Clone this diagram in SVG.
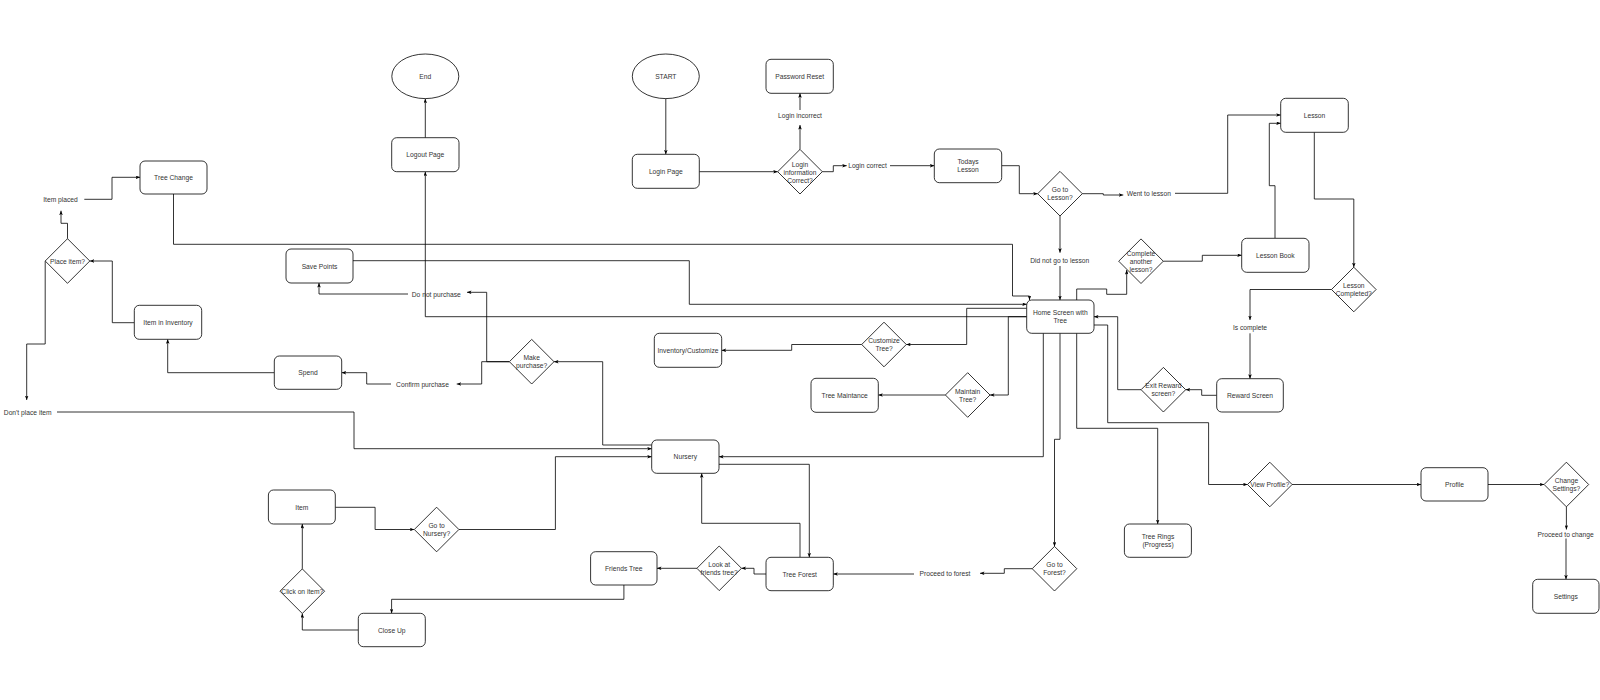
<svg xmlns="http://www.w3.org/2000/svg" width="1600" height="700" viewBox="0 0 1600 700">
<style>
.n rect,.n ellipse,.n polygon{fill:#fff;stroke:#000;stroke-width:0.8}
text{font-family:"Liberation Sans",Arial,Helvetica,sans-serif;font-size:6.7px;fill:#333;text-anchor:middle;dominant-baseline:central}
#edges path{fill:none;stroke:#000;stroke-width:0.8}
</style>
<defs>
<marker id="a" viewBox="0 0 10 8" refX="10" refY="4" markerWidth="4.5" markerHeight="3.6" markerUnits="userSpaceOnUse" orient="auto">
<path d="M0,0 L10,4 L0,8 L2.5,4 z" fill="#000"/>
</marker>
</defs>
<rect width="1600" height="700" fill="#fff"/>

<g id="edges">
<path d="M665.8,98.7 V154.3" marker-end="url(#a)"/>
<path d="M425.3,137.7 V98.7" marker-end="url(#a)"/>
<path d="M699.3,171.7 H777.7" marker-end="url(#a)"/>
<path d="M800,149.4 V125" marker-end="url(#a)"/>
<path d="M800,110 V93.3" marker-end="url(#a)"/>
<path d="M822.3,171.7 H833.3 V165.7 H846.7" marker-end="url(#a)"/>
<path d="M890,165.7 H934.3" marker-end="url(#a)"/>
<path d="M1001.7,165.7 H1019.3 V193.7 H1037.7" marker-end="url(#a)"/>
<path d="M1082.3,193.7 H1103.3 V195 H1123.3" marker-end="url(#a)"/>
<path d="M1175,193.3 H1227.7 V115 H1280.7" marker-end="url(#a)"/>
<path d="M1060,215.7 V252.7" marker-end="url(#a)"/>
<path d="M1060,266 V300" marker-end="url(#a)"/>
<path d="M1275,238.3 V185.7 H1269.3 V123.3 H1280.7" marker-end="url(#a)"/>
<path d="M1314.3,132.3 V199 H1353.8 V267.2" marker-end="url(#a)"/>
<path d="M1331.5,289.5 H1250 V320" marker-end="url(#a)"/>
<path d="M1250,333.3 V378.7" marker-end="url(#a)"/>
<path d="M1216.7,395.3 H1201.7 V389.7 H1185.7" marker-end="url(#a)"/>
<path d="M1141,389.7 H1117.7 V316.7 H1094" marker-end="url(#a)"/>
<path d="M1076.7,300 V289 H1106.7 V294.3 H1126.7 V270" marker-end="url(#a)"/>
<path d="M1163.3,261.2 H1202.3 V255.3 H1241.7" marker-end="url(#a)"/>
<path d="M1094,325 H1107.7 V422.7 H1208.6 V484.5 H1247.5" marker-end="url(#a)"/>
<path d="M1292.1,484.5 H1421" marker-end="url(#a)"/>
<path d="M1488,484.5 H1544.1" marker-end="url(#a)"/>
<path d="M1566.4,506.8 V529.5" marker-end="url(#a)"/>
<path d="M1566,538.5 V579.3" marker-end="url(#a)"/>
<path d="M1076.7,333.3 V428.3 H1157.7 V524" marker-end="url(#a)"/>
<path d="M1060,333.3 V439.3 H1054.5 V546.4" marker-end="url(#a)"/>
<path d="M1043.3,333.3 V456.7 H719" marker-end="url(#a)"/>
<path d="M1032.2,568.7 H1004.3 V573.3 H980" marker-end="url(#a)"/>
<path d="M914,574 H833.3" marker-end="url(#a)"/>
<path d="M766,574 H754 V568.3 H741.5" marker-end="url(#a)"/>
<path d="M696.9,568.3 H657" marker-end="url(#a)"/>
<path d="M623.9,585 V599.3 H391.6 V613.3" marker-end="url(#a)"/>
<path d="M358.3,630 H302.3 V613.5" marker-end="url(#a)"/>
<path d="M302.3,568.9 V524" marker-end="url(#a)"/>
<path d="M335.3,507.3 H375.1 V529.5 H414.3" marker-end="url(#a)"/>
<path d="M458.9,529.5 H555.4 V456.7 H651.7" marker-end="url(#a)"/>
<path d="M800,557.3 V523.3 H701.7 V473.3" marker-end="url(#a)"/>
<path d="M719,464.3 H809.3 V557.3" marker-end="url(#a)"/>
<path d="M651.7,445 H602.7 V361.7 H554" marker-end="url(#a)"/>
<path d="M509.4,361.7 H486.7 V292.3 H467" marker-end="url(#a)"/>
<path d="M408,294 H319 V283" marker-end="url(#a)"/>
<path d="M509.4,361.7 H481.7 V384 H456.7" marker-end="url(#a)"/>
<path d="M391,384 H366.7 V372.7 H341.7" marker-end="url(#a)"/>
<path d="M274.3,372.7 H167.7 V339.3" marker-end="url(#a)"/>
<path d="M134.3,322.7 H112.3 V261 H89.8" marker-end="url(#a)"/>
<path d="M67.5,238.7 V223.3 H61 V210.7" marker-end="url(#a)"/>
<path d="M84.3,199.3 H112 V177.3 H140" marker-end="url(#a)"/>
<path d="M45.2,261 V344 H26.7 V400" marker-end="url(#a)"/>
<path d="M57,412 H354 V448.7 H651.7" marker-end="url(#a)"/>
<path d="M173.5,194 V244.3 H1012.5 V296 H1029.5 V300" marker-end="url(#a)"/>
<path d="M353,260.7 H689.3 V304.3 H1026.7" marker-end="url(#a)"/>
<path d="M1026.7,316.7 H425.3 V171.7" marker-end="url(#a)"/>
<path d="M1026.7,308.3 H966.7 V344.5 H906.3" marker-end="url(#a)"/>
<path d="M861.7,344.5 H791.7 V350.3 H721.7" marker-end="url(#a)"/>
<path d="M1026.7,316.7 H1008.3 V395 H990" marker-end="url(#a)"/>
<path d="M945.4,395 H878.3" marker-end="url(#a)"/>
</g>

<g id="labels">
<text x="60.5" y="199.3">Item placed</text>
<text x="27.7" y="412">Don't place item</text>
<text x="436.3" y="294">Do not purchase</text>
<text x="422.5" y="384">Confirm purchase</text>
<text x="800" y="115.3">Login incorrect</text>
<text x="867.5" y="165.7">Login correct</text>
<text x="1148.8" y="193.3">Went to lesson</text>
<text x="1059.7" y="260.7">Did not go to lesson</text>
<text x="1250" y="327.7">Is complete</text>
<text x="945" y="573.3">Proceed to forest</text>
<text x="1565.6" y="534.7">Proceed to change</text>
</g>

<g id="start" class="n"><ellipse cx="665.8" cy="76.3" rx="33.5" ry="22.3"/><text x="665.8" y="76.3">START</text></g>
<g id="end" class="n"><ellipse cx="425.3" cy="76.3" rx="33.5" ry="22.3"/><text x="425.3" y="76.3">End</text></g>

<g id="tree-change" class="n"><rect x="140" y="161" width="67" height="33" rx="5"/><text x="173.5" y="177.5">Tree Change</text></g>
<g id="save-points" class="n"><rect x="286" y="249" width="67" height="34" rx="5"/><text x="319.5" y="266">Save Points</text></g>
<g id="item-in-inventory" class="n"><rect x="134.3" y="305.3" width="67.4" height="34" rx="5"/><text x="168" y="322.3">Item in Inventory</text></g>
<g id="spend" class="n"><rect x="274.3" y="356" width="67.4" height="33.3" rx="5"/><text x="308" y="372.7">Spend</text></g>
<g id="logout-page" class="n"><rect x="391.7" y="137.7" width="67.3" height="34" rx="5"/><text x="425.3" y="154.7">Logout Page</text></g>
<g id="login-page" class="n"><rect x="632.3" y="154.3" width="67" height="34" rx="5"/><text x="665.8" y="171.3">Login Page</text></g>
<g id="password-reset" class="n"><rect x="766" y="59.3" width="67.3" height="34" rx="5"/><text x="799.7" y="76.3">Password Reset</text></g>
<g id="todays-lesson" class="n"><rect x="934.3" y="149" width="67.4" height="33.7" rx="5"/><text x="968" y="161.8">Todays</text><text x="968" y="169.8">Lesson</text></g>
<g id="lesson" class="n"><rect x="1280.7" y="98.3" width="67.6" height="34" rx="5"/><text x="1314.5" y="115.3">Lesson</text></g>
<g id="lesson-book" class="n"><rect x="1241.7" y="238.3" width="67.3" height="34" rx="5"/><text x="1275.3" y="255.3">Lesson Book</text></g>
<g id="home" class="n"><rect x="1026.7" y="300" width="67.3" height="33.3" rx="5"/><text x="1060.3" y="312.7">Home Screen with</text><text x="1060.3" y="320.7">Tree</text></g>
<g id="inventory-customize" class="n"><rect x="654.3" y="333.3" width="67.4" height="34" rx="5"/><text x="688" y="350.3">Inventory/Customize</text></g>
<g id="tree-maintance" class="n"><rect x="811" y="378.3" width="67.3" height="34" rx="5"/><text x="844.7" y="395.3">Tree Maintance</text></g>
<g id="reward-screen" class="n"><rect x="1216.7" y="378.7" width="66.6" height="33.3" rx="5"/><text x="1250" y="395.3">Reward Screen</text></g>
<g id="nursery" class="n"><rect x="651.7" y="440" width="67.3" height="33.3" rx="5"/><text x="685.3" y="456.7">Nursery</text></g>
<g id="tree-forest" class="n"><rect x="766" y="557.3" width="67.3" height="33.4" rx="5"/><text x="799.7" y="574">Tree Forest</text></g>
<g id="friends-tree" class="n"><rect x="590.6" y="551.7" width="66.4" height="33.3" rx="5"/><text x="623.8" y="568.3">Friends Tree</text></g>
<g id="item" class="n"><rect x="268.4" y="490" width="66.9" height="34" rx="5"/><text x="301.8" y="507">Item</text></g>
<g id="close-up" class="n"><rect x="358.3" y="613.3" width="67" height="33.4" rx="5"/><text x="391.8" y="630">Close Up</text></g>
<g id="tree-rings" class="n"><rect x="1124.4" y="524" width="67" height="33.3" rx="5"/><text x="1158" y="536.7">Tree Rings</text><text x="1158" y="544.7">(Progress)</text></g>
<g id="profile" class="n"><rect x="1421" y="467.7" width="67" height="33.3" rx="5"/><text x="1454.5" y="484.3">Profile</text></g>
<g id="settings" class="n"><rect x="1532.7" y="579.3" width="66.3" height="34" rx="5"/><text x="1565.8" y="596.3">Settings</text></g>

<g id="place-item" class="n"><polygon points="67.5,238.7 89.8,261 67.5,283.3 45.2,261"/><text x="67.5" y="261">Place item?</text></g>
<g id="make-purchase" class="n"><polygon points="531.7,339.4 554,361.7 531.7,384 509.4,361.7"/><text x="531.7" y="357.7">Make</text><text x="531.7" y="365.7">purchase?</text></g>
<g id="login-info" class="n"><polygon points="800,149.4 822.3,171.7 800,194 777.7,171.7"/><text x="800" y="164">Login</text><text x="800" y="172">information</text><text x="800" y="180">Correct?</text></g>
<g id="go-to-lesson" class="n"><polygon points="1060,171.4 1082.3,193.7 1060,216 1037.7,193.7"/><text x="1060" y="189.7">Go to</text><text x="1060" y="197.7">Lesson?</text></g>
<g id="complete-another" class="n"><polygon points="1141,238.9 1163.3,261.2 1141,283.5 1118.7,261.2"/><text x="1141" y="253.2">Complete</text><text x="1141" y="261.2">another</text><text x="1141" y="269.2">lesson?</text></g>
<g id="lesson-completed" class="n"><polygon points="1353.8,267.2 1376.1,289.5 1353.8,311.8 1331.5,289.5"/><text x="1353.8" y="285.5">Lesson</text><text x="1353.8" y="293.5">Completed?</text></g>
<g id="customize-tree" class="n"><polygon points="884,322.2 906.3,344.5 884,366.8 861.7,344.5"/><text x="884" y="340.5">Customize</text><text x="884" y="348.5">Tree?</text></g>
<g id="maintain-tree" class="n"><polygon points="967.7,372.7 990,395 967.7,417.3 945.4,395"/><text x="967.7" y="391">Maintain</text><text x="967.7" y="399">Tree?</text></g>
<g id="exit-reward" class="n"><polygon points="1163.4,367.4 1185.7,389.7 1163.4,412 1141.1,389.7"/><text x="1163.4" y="385.7">Exit Reward</text><text x="1163.4" y="393.7">screen?</text></g>
<g id="view-profile" class="n"><polygon points="1269.8,462.2 1292.1,484.5 1269.8,506.8 1247.5,484.5"/><text x="1269.8" y="484.5">View Profile?</text></g>
<g id="change-settings" class="n"><polygon points="1566.4,462.2 1588.7,484.5 1566.4,506.8 1544.1,484.5"/><text x="1566.4" y="480.5">Change</text><text x="1566.4" y="488.5">Settings?</text></g>
<g id="go-to-forest" class="n"><polygon points="1054.5,546.4 1076.8,568.7 1054.5,591 1032.2,568.7"/><text x="1054.5" y="564.7">Go to</text><text x="1054.5" y="572.7">Forest?</text></g>
<g id="look-at-friends" class="n"><polygon points="719.2,546 741.5,568.3 719.2,590.6 696.9,568.3"/><text x="719.2" y="564.3">Look at</text><text x="719.2" y="572.3">friends tree?</text></g>
<g id="go-to-nursery" class="n"><polygon points="436.6,507.2 458.9,529.5 436.6,551.8 414.3,529.5"/><text x="436.6" y="525.5">Go to</text><text x="436.6" y="533.5">Nursery?</text></g>
<g id="click-on-item" class="n"><polygon points="302.3,568.9 324.6,591.2 302.3,613.5 280,591.2"/><text x="302.3" y="591.2">Click on item?</text></g>
</svg>
